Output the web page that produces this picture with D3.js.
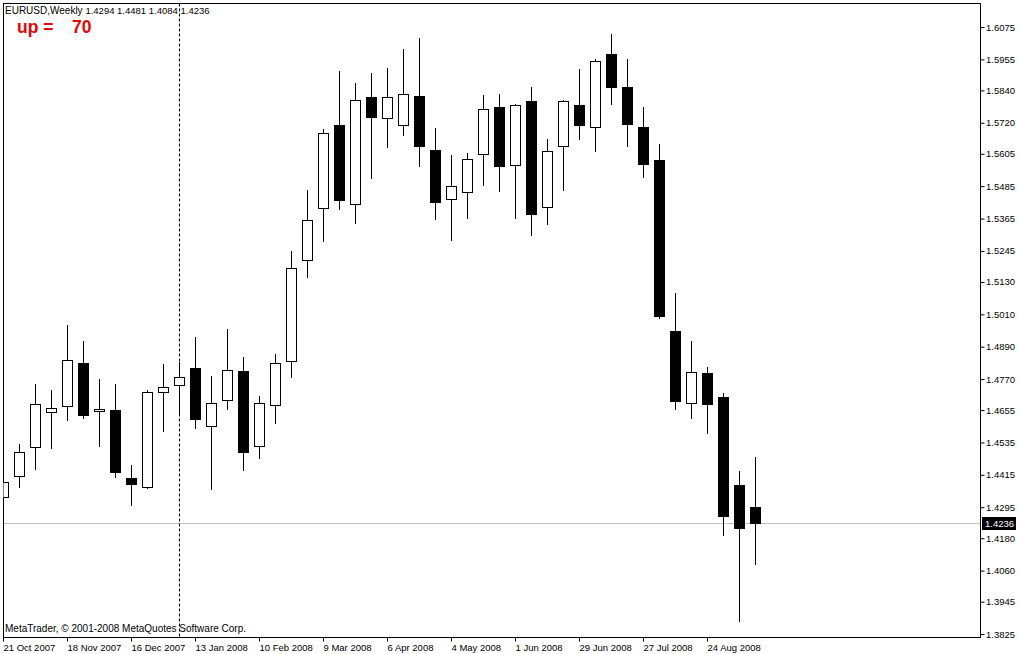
<!DOCTYPE html>
<html>
<head>
<meta charset="utf-8">
<script src="https://cdn.jsdelivr.net/npm/d3@7"></script>
<style>
body { margin: 0; background: #fff; }
svg { display: block; font-family: "Liberation Sans", Arial, sans-serif; }
.axis text { font-size: 9.5px; fill: #000; }
.axis line { stroke: #000; }
</style>
</head>
<body>
<svg width="1018" height="654"></svg>
<script>
// EURUSD weekly bars, 21 Oct 2007 .. 14 Sep 2008
var opens  = [1.4333,1.4411,1.4518,1.4648,1.4670,1.4830,1.4652,1.4655,1.4403,1.4370,1.4722,1.4748,1.4811,1.4596,1.4692,1.4800,1.4522,1.4674,1.4837,1.5211,1.5404,1.5712,1.5419,1.5816,1.5738,1.5712,1.5819,1.5619,1.5437,1.5463,1.5604,1.5778,1.5563,1.5801,1.5408,1.5634,1.5786,1.5704,1.5975,1.5853,1.5704,1.5582,1.4948,1.4681,1.4792,1.4704,1.4377,1.4294];
var highs  = [1.4392,1.4529,1.4752,1.4729,1.4970,1.4911,1.4770,1.4752,1.4451,1.4729,1.4826,1.4833,1.4926,1.4781,1.4956,1.4852,1.4707,1.4863,1.5245,1.5471,1.5697,1.5912,1.5867,1.5905,1.5923,1.5993,1.6034,1.5701,1.5601,1.5608,1.5823,1.5827,1.5788,1.5853,1.5660,1.5803,1.5919,1.5956,1.6049,1.5956,1.5778,1.5641,1.5089,1.4911,1.4815,1.4718,1.4429,1.4481];
var lows   = [1.4118,1.4370,1.4437,1.4514,1.4618,1.4626,1.4522,1.4407,1.4303,1.4368,1.4577,1.4637,1.4589,1.4363,1.4659,1.4433,1.4477,1.4607,1.4778,1.5148,1.5282,1.5400,1.5349,1.5515,1.5630,1.5675,1.5560,1.5363,1.5285,1.5367,1.5489,1.5467,1.5367,1.5304,1.5345,1.5471,1.5660,1.5615,1.5790,1.5634,1.5519,1.4996,1.4659,1.4626,1.4570,1.4192,1.3873,1.4084];
var closes = [1.4388,1.4500,1.4678,1.4663,1.4841,1.4637,1.4659,1.4426,1.4381,1.4722,1.4741,1.4778,1.4622,1.4681,1.4804,1.4500,1.4681,1.4830,1.5182,1.5360,1.5682,1.5434,1.5804,1.5741,1.5816,1.5827,1.5634,1.5426,1.5486,1.5586,1.5771,1.5560,1.5786,1.5382,1.5615,1.5801,1.5712,1.5949,1.5853,1.5715,1.5567,1.5004,1.4689,1.4796,1.4678,1.4262,1.4218,1.4236];

var priceTicks = [1.6075,1.5955,1.5840,1.5720,1.5605,1.5485,1.5365,1.5245,1.5130,1.5010,1.4890,1.4770,1.4655,1.4535,1.4415,1.4295,1.4180,1.4060,1.3945,1.3825];
var dateTicks = ["2007-10-21","2007-11-18","2007-12-16","2008-01-13","2008-02-10","2008-03-09","2008-04-06","2008-05-04","2008-06-01","2008-06-29","2008-07-27","2008-08-24"];
var lastPrice = 1.4236;
var markerWeek = "2008-01-06";   // dotted vertical line
var upValue = 70;

var svg = d3.select("svg");
var L = 3.5, R = 980.5, T = 3.5, B = 637.5;

var parseDay = d3.utcParse("%Y-%m-%d");
var weeks = d3.utcWeek.range(parseDay("2007-10-21"), parseDay("2008-09-15"));

var x = d3.scaleUtc().domain([weeks[0], weeks[weeks.length - 1]]).range([3, 3 + 16 * (weeks.length - 1)]);
var y = d3.scaleLinear().domain([1.3825, 1.6075]).range([634, 27]);
function py(v) { return Math.round(y(v)) + 0.5; }

var bars = weeks.map(function(d, i) {
  return {date: d, o: opens[i], h: highs[i], l: lows[i], c: closes[i]};
});

svg.append("defs").append("clipPath").attr("id", "plot")
  .append("rect").attr("x", L).attr("y", T).attr("width", R - L).attr("height", B - T);

// frame
svg.append("rect").attr("x", L).attr("y", T).attr("width", R - L).attr("height", B - T)
  .attr("fill", "#fff").attr("stroke", "#000");

var g = svg.append("g").attr("clip-path", "url(#plot)");

// last price line
g.append("line")
  .attr("x1", L).attr("x2", R)
  .attr("y1", py(lastPrice)).attr("y2", py(lastPrice))
  .attr("stroke", "#c0c0c0");

// dotted vertical line
g.append("line")
  .attr("x1", x(parseDay(markerWeek)) + 0.5).attr("x2", x(parseDay(markerWeek)) + 0.5)
  .attr("y1", T).attr("y2", B)
  .attr("stroke", "#000").attr("stroke-dasharray", "3,2");

var candle = g.selectAll(".candle").data(bars).enter().append("g").attr("class", "candle");

candle.append("line")
  .attr("x1", function(d) { return x(d.date) + 0.5; })
  .attr("x2", function(d) { return x(d.date) + 0.5; })
  .attr("y1", function(d) { return py(d.h) - 0.5; })
  .attr("y2", function(d) { return py(d.l) + 0.5; })
  .attr("stroke", "#000");

candle.append("rect")
  .attr("x", function(d) { return x(d.date) - 4.5; })
  .attr("y", function(d) { return py(Math.max(d.o, d.c)); })
  .attr("width", 10)
  .attr("height", function(d) { return Math.max(py(Math.min(d.o, d.c)) - py(Math.max(d.o, d.c)), 1); })
  .attr("fill", function(d) { return d.c >= d.o ? "#fff" : "#000"; })
  .attr("stroke", "#000");

// right price axis
var yAxis = svg.append("g").attr("class", "axis")
  .attr("transform", "translate(" + R + ",0)")
  .call(d3.axisRight(y).tickValues(priceTicks).tickSize(4).tickPadding(1.5).tickFormat(d3.format(".4f")));
yAxis.select(".domain").remove();

// bottom date axis
var xAxis = svg.append("g").attr("class", "axis")
  .attr("transform", "translate(0," + B + ")")
  .call(d3.axisBottom(x).tickValues(dateTicks.map(parseDay)).tickSize(4).tickPadding(3)
        .tickFormat(d3.utcFormat("%-d %b %Y")));
xAxis.select(".domain").remove();
xAxis.selectAll("text").attr("text-anchor", "start").attr("x", 0);

// last price tag
svg.append("rect").attr("x", 982).attr("y", py(lastPrice) - 6.5).attr("width", 34).attr("height", 13).attr("fill", "#000");
svg.append("text").attr("x", 985).attr("y", py(lastPrice) + 3.5)
  .attr("font-size", "9.5px").attr("fill", "#fff").text(d3.format(".4f")(lastPrice));

// header
var last = bars[bars.length - 1];
svg.append("text").attr("x", 5).attr("y", 14).attr("font-size", "10px")
  .text("EURUSD,Weekly  ")
  .append("tspan").attr("font-size", "9.5px")
  .text([last.o, last.h, last.l, last.c].map(d3.format(".4f")).join(" "));

svg.append("text").attr("x", 17).attr("y", 33).attr("font-size", "17.5px").attr("font-weight", "bold")
  .attr("fill", "#ee0000").text("up =");
svg.append("text").attr("x", 72).attr("y", 33).attr("font-size", "17.5px").attr("font-weight", "bold")
  .attr("fill", "#ee0000").text(upValue);

svg.append("text").attr("x", 5).attr("y", 632).attr("font-size", "10px")
  .text("MetaTrader, \u00a9 2001-2008 MetaQuotes Software Corp.");
</script>
</body>
</html>
